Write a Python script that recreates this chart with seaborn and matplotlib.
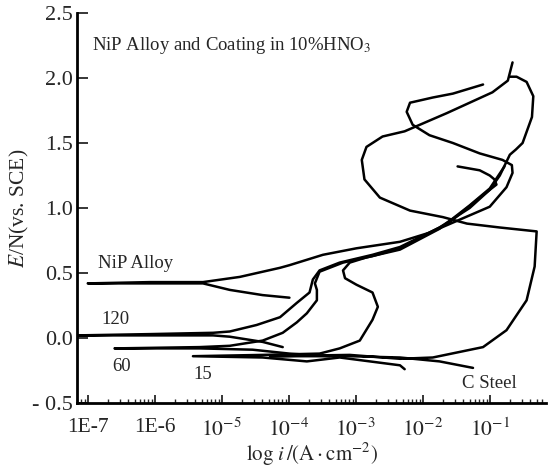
import numpy as np
import pandas as pd
import matplotlib
matplotlib.use("Agg")
import matplotlib.pyplot as plt
import seaborn as sns
from matplotlib.ticker import FixedLocator, LogLocator, NullFormatter

# polarization curves, log10(i / A cm^-2) and E / V vs SCE
nip_logi = [-3.99, -4.39, -4.88, -5.28, -6.07, -7.00, -6.07, -5.28, -4.73, -4.13, -3.99, -3.49, -2.99, -2.34, -1.90,
            -1.45, -1.00, -0.75, -0.66, -0.67, -0.81, -1.15, -1.55, -1.90, -2.15, -2.24, -2.19, -1.85, -1.55, -1.10]
nip_E = [0.31, 0.33, 0.37, 0.42, 0.42, 0.42, 0.43, 0.43, 0.47, 0.54, 0.56, 0.64, 0.69, 0.74, 0.81,
         0.91, 1.01, 1.16, 1.27, 1.33, 1.37, 1.42, 1.50, 1.56, 1.64, 1.74, 1.81, 1.85, 1.88, 1.95]

c120_logi = [-4.09, -4.39, -4.88, -5.13, -6.07, -7.16, -6.07, -5.13, -4.88, -4.48, -4.13, -3.88, -3.69, -3.64, -3.54,
             -3.24, -2.75, -2.34, -1.75, -1.30, -1.00, -0.85, -0.70, -0.61, -0.51, -0.37, -0.35, -0.45, -0.60, -0.70]
c120_E = [-0.07, -0.03, 0.01, 0.02, 0.02, 0.02, 0.03, 0.04, 0.05, 0.10, 0.16, 0.27, 0.35, 0.45, 0.52,
          0.58, 0.64, 0.70, 0.85, 1.00, 1.14, 1.25, 1.41, 1.45, 1.50, 1.70, 1.86, 1.97, 2.01, 2.01]

c60_logi = [-3.39, -3.99, -4.54, -5.33, -6.60, -5.33, -4.88, -4.39, -4.09, -3.88, -3.73, -3.58, -3.58, -3.61, -3.54,
            -3.19, -2.75, -2.34, -1.60, -1.10, -0.90, -0.93, -1.00, -1.15, -1.48]
c60_E = [-0.14, -0.12, -0.09, -0.08, -0.08, -0.07, -0.06, -0.02, 0.04, 0.12, 0.19, 0.29, 0.37, 0.42, 0.51,
         0.58, 0.63, 0.69, 0.89, 1.10, 1.18, 1.22, 1.25, 1.29, 1.32]

c15_logi = [-2.27, -2.34, -2.79, -3.24, -3.73, -4.39, -5.43, -4.39, -3.54, -3.24, -2.94, -2.75, -2.67, -2.75, -2.99,
            -3.16, -3.19, -3.09, -2.84, -2.34, -1.75, -1.30, -1.00, -0.78]
c15_E = [-0.24, -0.21, -0.18, -0.15, -0.18, -0.15, -0.14, -0.13, -0.12, -0.08, -0.02, 0.14, 0.24, 0.35, 0.41,
         0.46, 0.52, 0.58, 0.62, 0.68, 0.84, 1.02, 1.15, 1.32]

cs_logi = [-1.25, -1.75, -2.34, -3.09, -4.28, -3.09, -2.34, -1.85, -1.10, -0.75, -0.45, -0.33, -0.30, -0.85,
           -1.34, -1.70, -2.19, -2.64, -2.87, -2.91, -2.84, -2.60, -2.27, -1.64, -1.30, -0.96, -0.73, -0.66]
cs_E = [-0.23, -0.18, -0.15, -0.14, -0.14, -0.13, -0.16, -0.15, -0.07, 0.06, 0.29, 0.55, 0.82, 0.85,
        0.88, 0.93, 0.98, 1.08, 1.22, 1.37, 1.47, 1.55, 1.59, 1.73, 1.81, 1.89, 1.98, 2.12]

xtick_pos = [1e-7, 1e-6, 1e-5, 1e-4, 1e-3, 1e-2, 1e-1]
xtick_labels = ['1E-7', '1E-6', '$10^{-5}$', '$10^{-4}$', '$10^{-3}$', '$10^{-2}$', '$10^{-1}$']
ytick_pos = [-0.5, 0.0, 0.5, 1.0, 1.5, 2.0, 2.5]
ytick_labels = ['- 0.5', '0.0', '0.5', '1.0', '1.5', '2.0', '2.5']

curves = {
    'NiP Alloy': (nip_logi, nip_E),
    '120': (c120_logi, c120_E),
    '60': (c60_logi, c60_E),
    '15': (c15_logi, c15_E),
    'C Steel': (cs_logi, cs_E),
}
frames = []
for name, (lg, e) in curves.items():
    frames.append(pd.DataFrame({'curve': name, 'i': 10 ** np.array(lg), 'E': e}))
df = pd.concat(frames, ignore_index=True)

sns.set_style("ticks")
plt.rcParams['font.family'] = ['Liberation Serif', 'DejaVu Serif']
plt.rcParams['mathtext.fontset'] = 'stix'

fig = plt.figure(figsize=(5.49, 4.68), dpi=100)
ax = fig.add_axes([0.1403, 0.1389, 0.8543, 0.8333])

for name in curves:
    sub = df[df['curve'] == name]
    sns.lineplot(data=sub, x='i', y='E', sort=False, estimator=None, color='black',
                 linewidth=1.8, ax=ax, legend=False)
for line in ax.lines:
    line.set_solid_joinstyle('round')
    line.set_solid_capstyle('round')

ax.set_xscale('log')
ax.set_xlim(10 ** -7.16, 10 ** -0.16)
ax.set_ylim(-0.5, 2.5)
ax.xaxis.set_major_locator(FixedLocator(xtick_pos))
ax.set_xticklabels(xtick_labels)
ax.xaxis.set_minor_locator(LogLocator(base=10, subs=np.arange(2, 10)))
ax.xaxis.set_minor_formatter(NullFormatter())
ax.set_yticks(ytick_pos)
ax.set_yticklabels(ytick_labels)

ax.tick_params(axis='x', which='major', direction='in', length=6, width=1.3, labelsize=15.5, pad=11)
ax.tick_params(axis='x', which='minor', direction='in', length=3, width=1.0)
ax.tick_params(axis='y', which='major', direction='in', length=8, width=1.3, labelsize=16, pad=3)
sns.despine(ax=ax)
for s in ['left', 'bottom']:
    ax.spines[s].set_linewidth(2.0)
    ax.spines[s].set_color('black')

ax.set_xlabel(r'$\log\,i\,/(\mathrm{A\cdot cm^{-2}})$', fontsize=15, labelpad=0)
ax.set_ylabel(r'$E$/N(vs. SCE)', fontsize=15.5, labelpad=1)

ax.text(10 ** -6.94, 2.25, 'NiP Alloy and Coating in 10%HNO$_3$', fontsize=13.5, va='center', ha='left')
ax.text(10 ** -6.85, 0.57, 'NiP Alloy', fontsize=13.5, va='center', ha='left')
ax.text(10 ** -6.79, 0.14, '120', fontsize=13.5, va='center', ha='left')
ax.text(10 ** -6.63, -0.22, '60', fontsize=13.5, va='center', ha='left')
ax.text(10 ** -5.43, -0.28, '15', fontsize=13.5, va='center', ha='left')
ax.text(10 ** -1.42, -0.35, 'C Steel', fontsize=13.5, va='center', ha='left')

fig.savefig('out.png', dpi=100)
